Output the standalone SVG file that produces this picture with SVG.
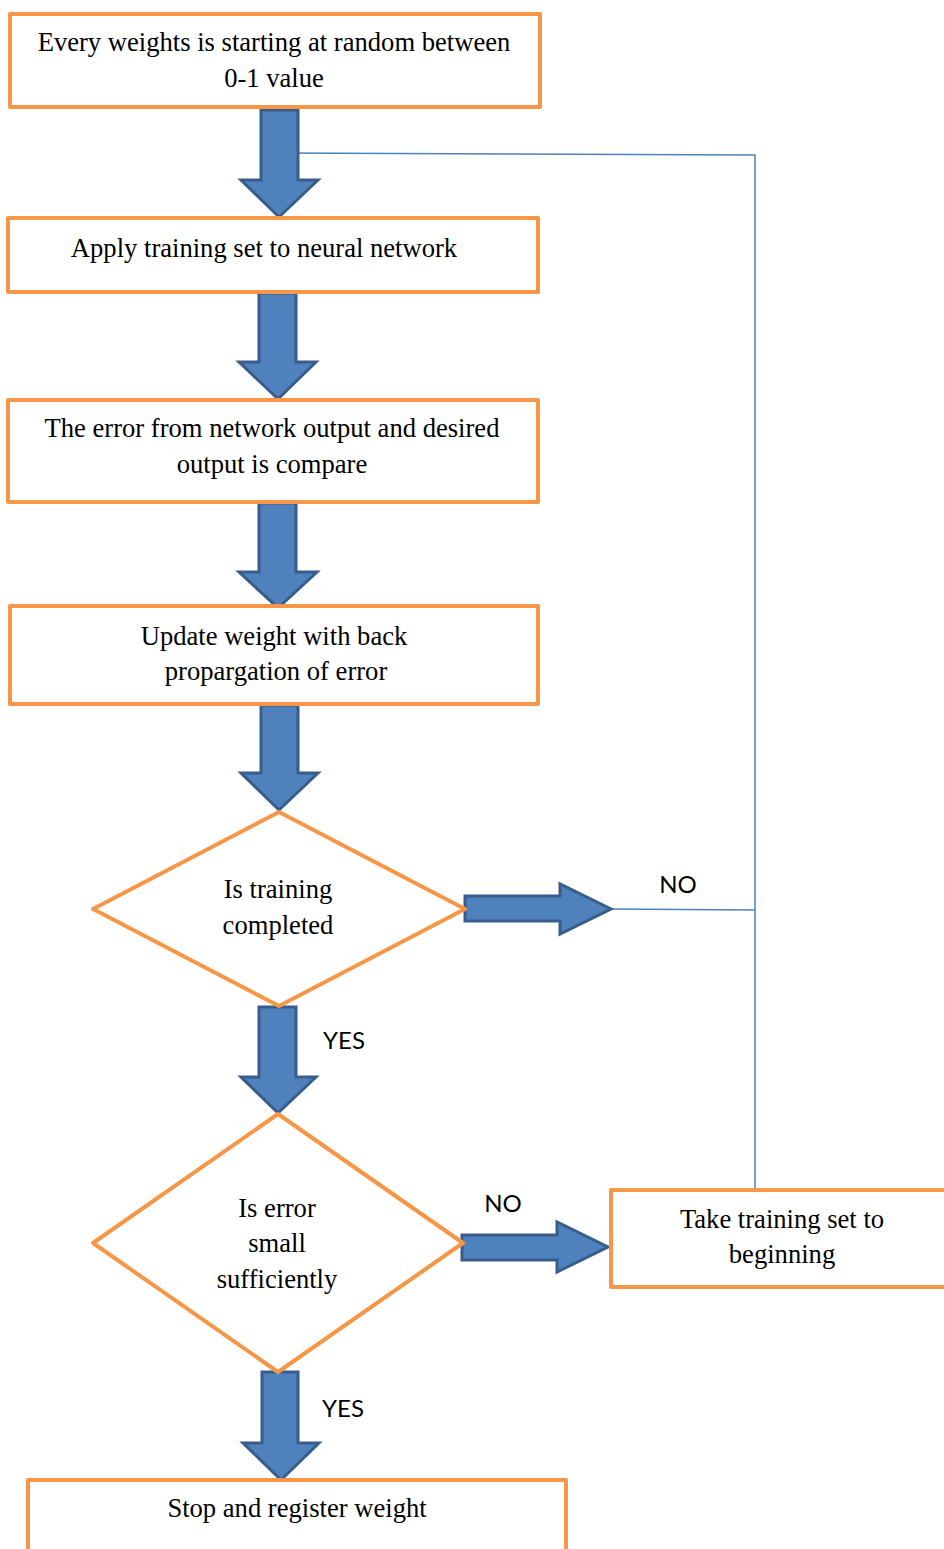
<svg xmlns="http://www.w3.org/2000/svg" width="944" height="1549" viewBox="0 0 944 1549">
<style>
.box{fill:#fff;stroke:#F79646;stroke-width:4;stroke-linejoin:round}
.arr{fill:#4F81BD;stroke:#385D8A;stroke-width:3;stroke-linejoin:miter}
.ln{fill:none;stroke:#4F81BD;stroke-width:1.5}
.t{font-family:"Liberation Serif","Times New Roman",serif;font-size:26.6px;fill:#000;text-anchor:middle}
.s{font-family:Lato,"Liberation Sans",sans-serif;font-size:24px;fill:#000;text-anchor:middle}
</style>
<rect width="944" height="1549" fill="#fff"/>
<g id="connectors">
<path class="ln" d="M280,153 L755,155 L755,1190"/>
<path class="ln" d="M610,909 L755,910"/>
<path class="arr" d="M261,110 H298 V180 H318 L279,217 L241,180 H261 Z"/>
<path class="arr" d="M259,293 H296 V362 H316 L278,399 L239,362 H259 Z"/>
<path class="arr" d="M259,503 H296 V572 H317 L278,608 L239,572 H259 Z"/>
<path class="arr" d="M261,705 H298 V773 H318 L279,810 L241,773 H261 Z"/>
<path class="arr" d="M465,896 H560 V884 L611,909 L560,934 V921 H465 Z"/>
<path class="arr" d="M259,1007 H296 V1077 H316 L278,1113 L241,1077 H259 Z"/>
<path class="arr" d="M462,1235 H557 V1222 L608,1247 L557,1272 V1260 H462 Z"/>
<path class="arr" d="M262,1372 H298 V1443 H319 L281,1480 L243,1443 H262 Z"/>
<text class="s" x="678" y="893">NO</text>
<text class="s" x="344" y="1049">YES</text>
<text class="s" x="503" y="1212">NO</text>
<text class="s" x="343" y="1417">YES</text>
</g>
<g id="n1">
<rect class="box" x="10" y="14" width="530" height="93"/>
<text class="t" x="274" y="51">Every weights is starting at random between</text>
<text class="t" x="274" y="87">0-1 value</text>
</g>
<g id="n2">
<rect class="box" x="8" y="218" width="530" height="74"/>
<text class="t" x="264" y="257">Apply training set to neural network</text>
</g>
<g id="n3">
<rect class="box" x="8" y="400" width="530" height="102"/>
<text class="t" x="272" y="437">The error from network output and desired</text>
<text class="t" x="272" y="473">output is compare</text>
</g>
<g id="n4">
<rect class="box" x="10" y="606" width="528" height="98"/>
<text class="t" x="274" y="645">Update weight with back</text>
<text class="t" x="276" y="680">propargation of error</text>
</g>
<g id="d1">
<polygon class="box" points="279,812 465,909 279,1006 93,909"/>
<text class="t" x="278" y="898">Is training</text>
<text class="t" x="278" y="934">completed</text>
</g>
<g id="d2">
<polygon class="box" points="278,1114 463,1243 278,1372 93,1243"/>
<text class="t" x="277" y="1217">Is error</text>
<text class="t" x="277" y="1252">small</text>
<text class="t" x="277" y="1288">sufficiently</text>
</g>
<g id="n5">
<rect class="box" x="611" y="1190" width="345" height="97"/>
<text class="t" x="782" y="1228">Take training set to</text>
<text class="t" x="782" y="1263">beginning</text>
</g>
<g id="n6">
<rect class="box" x="28" y="1480" width="538" height="90"/>
<text class="t" x="297" y="1517">Stop and register weight</text>
</g>
</svg>
